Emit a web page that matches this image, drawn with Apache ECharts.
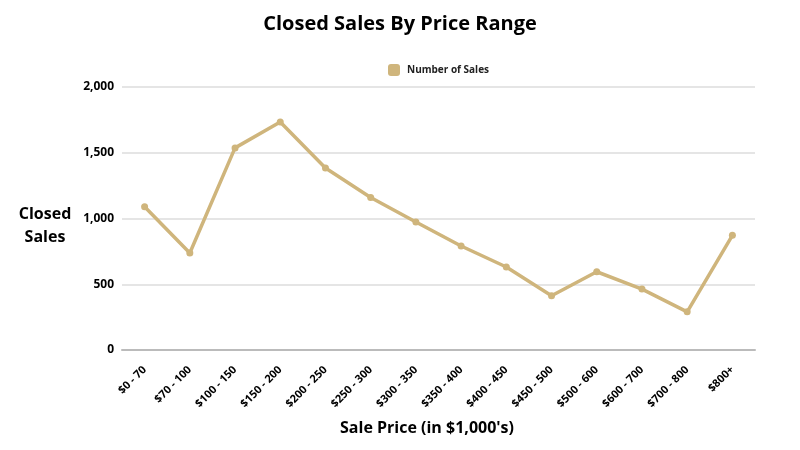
<!DOCTYPE html>
<html>
<head>
<meta charset="utf-8">
<script src="https://cdn.jsdelivr.net/npm/echarts@6/dist/echarts.min.js"></script>
<style>html,body{margin:0;padding:0;background:#fff}#c{width:800px;height:450px}</style>
</head>
<body>
<div id="c"></div>
<script>
const categories = ['$0 - 70','$70 - 100','$100 - 150','$150 - 200','$200 - 250','$250 - 300','$300 - 350','$350 - 400','$400 - 450','$450 - 500','$500 - 600','$600 - 700','$700 - 800','$800+'];
const salesValues = [1090, 738, 1537, 1734, 1384, 1160, 973, 791, 631, 412, 595, 463, 290, 872];
const yTicks = [0, 500, 1000, 1500, 2000];

const chart = echarts.init(document.getElementById('c'));
const font = '"Open Sans", Lato, sans-serif';
chart.setOption({
  animation: false,
  title: [{
    text: 'Closed Sales By Price Range',
    left: 'center', top: 9,
    textStyle: { fontFamily: font, fontWeight: 'bold', fontSize: 20, color: '#000' }
  }, {
    text: "Sale Price (in $1,000's)",
    left: 427, top: 420, textAlign: 'center', padding: 0,
    textStyle: { fontFamily: font, fontWeight: 'bold', fontSize: 16, color: '#000' }
  }, {
    text: 'Closed\nSales',
    left: 45, top: 203, textAlign: 'center', padding: 0,
    textStyle: { fontFamily: font, fontWeight: 'bold', fontSize: 16, color: '#000', lineHeight: 23, align: 'center' }
  }],
  legend: {
    top: 59, left: 383,
    itemWidth: 12, itemHeight: 12, itemGap: 10,
    textStyle: { fontFamily: font, fontWeight: 'bold', fontSize: 10, color: '#222', padding: [0, 0, 0, 2] },
    data: [{ name: 'Number of Sales', icon: 'roundRect' }]
  },
  grid: { left: 122, right: 45, top: 87, bottom: 100, containLabel: false },
  xAxis: {
    type: 'category',
    data: categories,
    boundaryGap: true,
    axisLine: { lineStyle: { color: '#bbb', width: 2 } },
    axisTick: { show: false },
    axisLabel: { rotate: 45, interval: 0, margin: 18, fontFamily: font, fontWeight: 'bold', fontSize: 11, color: '#000' }
  },
  yAxis: {
    type: 'value',
    min: yTicks[0], max: yTicks[yTicks.length - 1], interval: 500,
    axisLine: { show: false },
    axisTick: { show: false },
    splitLine: { lineStyle: { color: '#ddd', width: 1.5 } },
    axisLabel: {
      margin: 8, fontFamily: font, fontWeight: 'bold', fontSize: 12, color: '#000',
      formatter: v => v.toLocaleString('en-US')
    }
  },
  series: [{
    name: 'Number of Sales',
    type: 'line',
    data: salesValues,
    symbol: 'circle', symbolSize: 7,
    lineStyle: { color: '#CFB57C', width: 3.5 },
    itemStyle: { color: '#CFB57C' }
  }]
});
</script>
</body>
</html>
